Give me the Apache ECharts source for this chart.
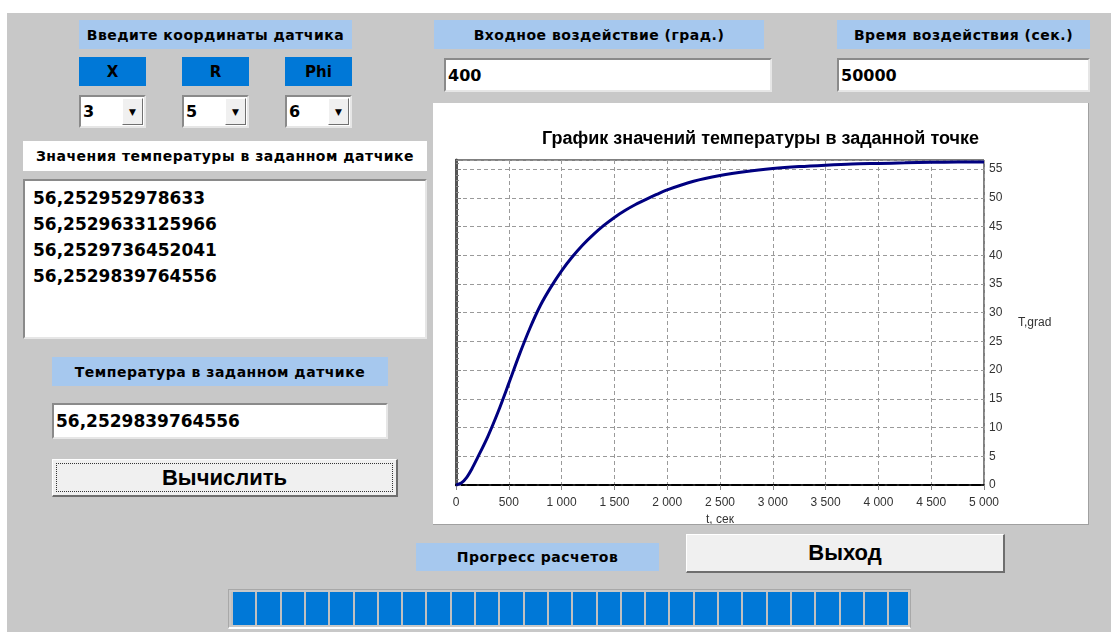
<!DOCTYPE html>
<html>
<head>
<meta charset="utf-8">
<script src="https://cdn.jsdelivr.net/npm/echarts@6/dist/echarts.min.js"></script>
<style>
  body { margin: 0; width: 1111px; height: 633px; background: #fff; overflow: hidden; position: relative; }
  .form { position: absolute; left: 7px; top: 13px; width: 1104px; height: 619px; background: #c8c8c8; }
  .abs { position: absolute; box-sizing: border-box; }
  .lbl { background: #a6c8ee; font: bold 14px "DejaVu Sans", sans-serif; color: #000; letter-spacing: 0.5px;
         display: flex; align-items: center; justify-content: center; white-space: nowrap; }
  .hdr { background: #0078d7; font: bold 15px "DejaVu Sans", sans-serif; color: #000;
         display: flex; align-items: center; justify-content: center; }
  .box { background: #fff; border-top: 2px solid #8a8a8a; border-left: 2px solid #8a8a8a;
         border-right: 2px solid #e6e6e6; border-bottom: 2px solid #e6e6e6;
         font: bold 16px "DejaVu Sans", sans-serif; color: #000; padding-left: 2px;
         display: flex; align-items: center; white-space: nowrap; }
  .drop { position: absolute; right: 1px; top: 1px; bottom: 1px; width: 19px; background: #f0f0f0;
          border-right: 1px solid #707070; border-bottom: 1px solid #707070; border-left: 1px solid #fff; border-top: 1px solid #fff;
          font: 9px "DejaVu Sans", sans-serif; display: flex; align-items: center; justify-content: center; }
  .btn { background: #f0f0f0; border-top: 1px solid #fff; border-left: 1px solid #fff;
         border-right: 2px solid #6e6e6e; border-bottom: 2px solid #6e6e6e;
         font: bold 22px "Liberation Sans", Arial, sans-serif; color: #000;
         display: flex; align-items: center; justify-content: center; }
  .list div { font: bold 17px "DejaVu Sans", sans-serif; height: 26px; line-height: 26px; }
</style>
</head>
<body>
<div class="form"></div>

<div class="abs lbl" style="left:79px;top:20px;width:273px;height:29px;">Введите координаты датчика</div>
<div class="abs hdr" style="left:79px;top:57px;width:67px;height:29px;">X</div>
<div class="abs hdr" style="left:182px;top:57px;width:67px;height:29px;">R</div>
<div class="abs hdr" style="left:285px;top:57px;width:67px;height:29px;">Phi</div>
<div class="abs box" style="left:79px;top:95px;width:67px;height:33px;">3<div class="drop">&#9660;</div></div>
<div class="abs box" style="left:182px;top:95px;width:67px;height:33px;">5<div class="drop">&#9660;</div></div>
<div class="abs box" style="left:285px;top:95px;width:67px;height:33px;">6<div class="drop">&#9660;</div></div>

<div class="abs lbl" style="left:23px;top:141px;width:404px;height:30px;background:#fff;">Значения температуры в заданном датчике</div>
<div class="abs box list" style="left:23px;top:179px;width:404px;height:160px;display:block;padding:4px 0 0 8px;">
  <div>56,252952978633</div>
  <div>56,2529633125966</div>
  <div>56,2529736452041</div>
  <div>56,2529839764556</div>
</div>

<div class="abs lbl" style="left:52px;top:357px;width:336px;height:29px;">Температура в заданном датчике</div>
<div class="abs box" style="left:52px;top:403px;width:336px;height:36px;font-size:17px;">56,2529839764556</div>
<div class="abs btn" style="left:52px;top:459px;width:346px;height:38px;">
  <div style="position:absolute;left:3px;top:3px;right:3px;bottom:3px;border:1px dotted #333;"></div>Вычислить</div>

<div class="abs lbl" style="left:434px;top:20px;width:330px;height:29px;">Входное воздействие (град.)</div>
<div class="abs box" style="left:444px;top:58px;width:328px;height:34px;">400</div>
<div class="abs lbl" style="left:837px;top:20px;width:253px;height:29px;">Время воздействия (сек.)</div>
<div class="abs box" style="left:837px;top:58px;width:253px;height:34px;">50000</div>

<div class="abs" id="main" style="left:433px;top:103px;width:656px;height:422px;background:#fff;border-right:1px solid #a0a0a0;border-bottom:1px solid #a0a0a0;"></div>

<div class="abs lbl" style="left:416px;top:543px;width:243px;height:28px;">Прогресс расчетов</div>
<div class="abs btn" style="left:686px;top:534px;width:319px;height:39px;">Выход</div>
<div class="abs" style="left:228px;top:589px;width:683px;height:40px;border:1px solid #a8a8a8;border-bottom:2px solid #fff;background:repeating-linear-gradient(90deg,#c0c0c0 0px,#c0c0c0 2px,#0078d7 2px,#0078d7 24.3px);background-position:2px 0;background-clip:content-box;padding:2px;"></div>

<script>
// время, сек
var timeData = [0, 50, 100, 150, 200, 300, 400, 500, 600, 700, 800, 900, 1000, 1100, 1200, 1300, 1400, 1500, 1600, 1700, 1800, 1900, 2000,
  2250, 2500, 2750, 3000, 3250, 3500, 3750, 4000, 4250, 4500, 4750, 5000];
// температура, град
var tempData = [0, 0.35, 1.3, 2.8, 4.6, 8.4, 12.8, 17.7, 22.7, 27.3, 31.3, 34.5, 37.3, 39.7, 41.8, 43.6, 45.2, 46.6, 47.8, 48.85, 49.75, 50.6, 51.4,
  52.9, 53.9, 54.6, 55.1, 55.45, 55.7, 55.9, 56.0, 56.1, 56.2, 56.23, 56.25];

var xTicks = { min: 0, max: 5000, step: 500 };
var yTicks = { min: 0, max: 56.6, step: 5 };

var chart = echarts.init(document.getElementById('main'));

function thousands(v) {
  return String(v).replace(/\B(?=(\d{3})+(?!\d))/g, ' ');
}

var points = timeData.map(function (t, i) { return [t, tempData[i]]; });

var option = {
  animation: false,
  title: {
    text: 'График значений температуры в заданной точке',
    left: 'center',
    top: 22,
    textStyle: { fontSize: 18, fontWeight: 'bold', color: '#000', fontFamily: 'Liberation Sans' }
  },
  grid: { left: 23, right: 104, top: 57, bottom: 39, outerBoundsMode: 'none', show: true, borderColor: '#000', borderWidth: 1 },
  xAxis: [{
    type: 'value',
    min: xTicks.min, max: xTicks.max, interval: xTicks.step,
    name: 't, сек', nameLocation: 'middle', nameGap: 28,
    nameTextStyle: { fontSize: 12, color: '#333', fontFamily: 'Liberation Sans' },
    axisLine: { lineStyle: { color: '#000', width: 2, type: 'dashed' } },
    axisTick: { show: true, length: 5, lineStyle: { color: '#888' } },
    axisLabel: { fontSize: 12, color: '#333', fontFamily: 'Liberation Sans', margin: 12, formatter: thousands },
    splitLine: { show: true, lineStyle: { color: '#9a9a9a', type: [4, 3] } }
  }, {
    type: 'value', position: 'top',
    min: xTicks.min, max: xTicks.max,
    axisLine: { show: true, lineStyle: { color: '#000', width: 1.5 } },
    axisTick: { show: false }, axisLabel: { show: false }, splitLine: { show: false }
  }],
  yAxis: [{
    type: 'value', position: 'right',
    min: yTicks.min, max: yTicks.max, interval: yTicks.step,
    name: 'T,grad', nameLocation: 'middle', nameGap: 34, nameRotate: 0,
    nameTextStyle: { fontSize: 12, color: '#333', fontFamily: 'Liberation Sans', align: 'left', padding: [6, 0, 0, 0] },
    axisLine: { show: true, lineStyle: { color: '#000', width: 2 } },
    axisTick: { show: true, length: 5, lineStyle: { color: '#888' } },
    minorTick: { show: true, splitNumber: 5, length: 3, lineStyle: { color: '#888' } },
    axisLabel: { fontSize: 12, color: '#333', fontFamily: 'Liberation Sans', margin: 5, showMaxLabel: false },
    splitLine: { show: true, lineStyle: { color: '#9a9a9a', type: [4, 3] } }
  }, {
    type: 'value', position: 'left',
    min: yTicks.min, max: yTicks.max,
    axisLine: { show: true, lineStyle: { color: '#555', width: 3 } },
    axisTick: { show: false }, axisLabel: { show: false }, splitLine: { show: false }
  }],
  series: [{
    type: 'line',
    data: points,
    smooth: 0.3,
    showSymbol: false,
    lineStyle: { color: '#000080', width: 3 }
  }]
};

chart.setOption(option);
</script>
</body>
</html>
